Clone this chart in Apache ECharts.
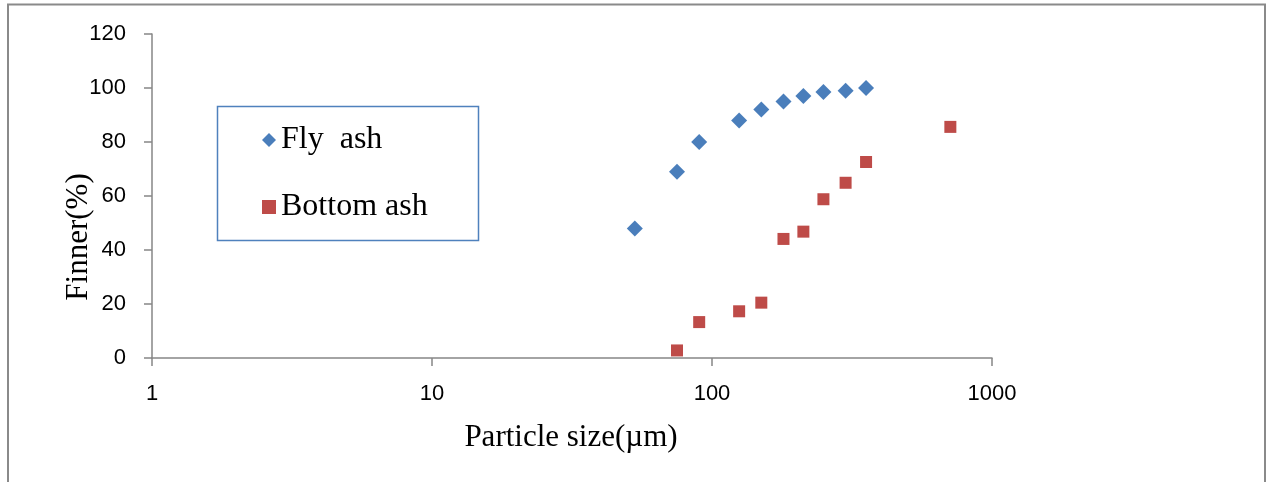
<!DOCTYPE html>
<html>
<head>
<meta charset="utf-8">
<script src="https://cdn.jsdelivr.net/npm/echarts@6/dist/echarts.min.js"></script>
<style>html,body{margin:0;padding:0;background:#fff;}#c{width:1269px;height:482px;}</style>
</head>
<body>
<div id="c"></div>
<script>
const flySize = [53, 75, 90, 125, 150, 180, 212, 250, 300, 355];
const flyFiner = [48, 69, 80, 88, 92, 95, 97, 98.5, 99, 100];
const bottomSize = [75, 90, 125, 150, 180, 212, 250, 300, 355, 710];
const bottomFiner = [2.8, 13.3, 17.3, 20.5, 44.1, 46.8, 58.8, 64.9, 72.6, 85.6];
const xTicks = [1, 10, 100, 1000];
const yTicks = [0, 20, 40, 60, 80, 100, 120];
const seriesNames = ['Fly  ash', 'Bottom ash'];
const xTitle = 'Particle size(\u00b5m)';
const yTitle = 'Finner(%)';

const chart = echarts.init(document.getElementById('c'), null, {renderer: 'canvas'});
const axisColor = '#868686';
const serif = '"Liberation Serif", "Times New Roman", serif';
const sans = '"Liberation Sans", Arial, sans-serif';

chart.setOption({
  animation: false,
  backgroundColor: '#fff',
  grid: {left: 152, top: 34, right: 277, bottom: 124, containLabel: false},
  xAxis: {
    type: 'log', logBase: 10, min: xTicks[0], max: xTicks[xTicks.length - 1],
    axisLine: {show: true, lineStyle: {color: axisColor, width: 1.5}},
    axisTick: {show: true, inside: false, length: 8, lineStyle: {color: axisColor, width: 1.5}},
    minorTick: {show: false},
    splitLine: {show: false},
    axisLabel: {margin: 25, color: '#000', fontFamily: sans, fontSize: 22,
      formatter: v => String(Math.round(v))}
  },
  yAxis: {
    type: 'value', min: yTicks[0], max: yTicks[yTicks.length - 1], interval: 20,
    axisLine: {show: true, lineStyle: {color: axisColor, width: 1.5}},
    axisTick: {show: true, inside: false, length: 8, lineStyle: {color: axisColor, width: 1.5}},
    splitLine: {show: false},
    axisLabel: {margin: 26, color: '#000', fontFamily: sans, fontSize: 22}
  },
  legend: {
    orient: 'vertical', left: 262, top: 123, padding: 0,
    itemGap: 33, itemWidth: 14, itemHeight: 14, itemTextGap: 7,
    textStyle: {fontFamily: serif, fontSize: 32, color: '#000', lineHeight: 34},
    data: [{name: seriesNames[0], icon: 'diamond'}, {name: seriesNames[1], icon: 'rect'}]
  },
  graphic: [
    {type: 'rect', shape: {x: 8, y: 4.5, width: 1257, height: 520}, style: {fill: 'none', stroke: '#8a8a8a', lineWidth: 2}, silent: true, z: -1},
    {type: 'rect', shape: {x: 217.5, y: 106.5, width: 261, height: 134}, style: {fill: 'none', stroke: '#4F81BD', lineWidth: 1.5}, silent: true},
    {type: 'text', x: 571, y: 438, style: {text: xTitle, font: '31px ' + serif, fill: '#000', align: 'center', verticalAlign: 'middle'}},
    {type: 'text', x: 79, y: 237, rotation: Math.PI / 2, style: {text: yTitle, font: '31px ' + serif, fill: '#000', align: 'center', verticalAlign: 'middle'}}
  ],
  series: [
    {
      name: seriesNames[0], type: 'scatter', symbol: 'diamond', symbolSize: 16,
      itemStyle: {color: '#4A7EBB', opacity: 1},
      data: flySize.map((s, i) => [s, flyFiner[i]])
    },
    {
      name: seriesNames[1], type: 'scatter', symbol: 'rect', symbolSize: 12,
      itemStyle: {color: '#BE4B48', opacity: 1},
      data: bottomSize.map((s, i) => [s, bottomFiner[i]])
    }
  ]
});
</script>
</body>
</html>
